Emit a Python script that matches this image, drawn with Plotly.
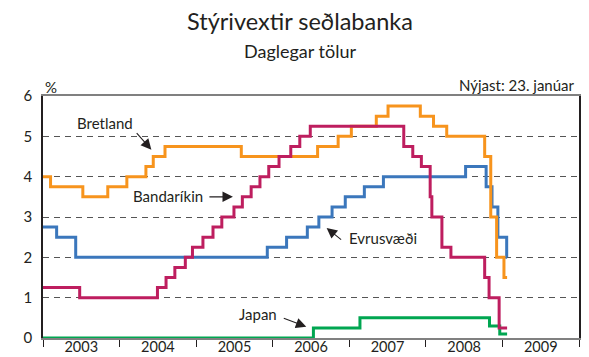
import plotly.graph_objects as go

# Policy rates, daily figures (step changes; the last value runs to 23 Jan 2009)
END_DATE = "2009-01-23"

uk_dates = ["2003-01-01", "2003-02-06", "2003-07-10", "2003-11-06", "2004-02-05",
            "2004-05-06", "2004-06-10", "2004-08-05", "2005-08-04", "2006-08-03",
            "2006-11-09", "2007-01-11", "2007-05-10", "2007-07-05", "2007-12-06",
            "2008-02-07", "2008-04-10", "2008-10-08", "2008-11-06", "2008-12-04",
            "2009-01-08"]
uk_rates = [4.00, 3.75, 3.50, 3.75, 4.00, 4.25, 4.50, 4.75, 4.50, 4.75,
            5.00, 5.25, 5.50, 5.75, 5.50, 5.25, 5.00, 4.50, 3.00, 2.00, 1.50]

us_dates = ["2003-01-01", "2003-06-25", "2004-06-30", "2004-08-10", "2004-09-21",
            "2004-11-10", "2004-12-14", "2005-02-02", "2005-03-22", "2005-05-03",
            "2005-06-30", "2005-08-09", "2005-09-20", "2005-11-01", "2005-12-13",
            "2006-01-31", "2006-03-28", "2006-05-10", "2006-06-29", "2007-09-18",
            "2007-10-31", "2007-12-11", "2008-01-22", "2008-01-30", "2008-03-18",
            "2008-04-30", "2008-10-08", "2008-10-29", "2008-12-16"]
us_rates = [1.25, 1.00, 1.25, 1.50, 1.75, 2.00, 2.25, 2.50, 2.75, 3.00,
            3.25, 3.50, 3.75, 4.00, 4.25, 4.50, 4.75, 5.00, 5.25, 4.75,
            4.50, 4.25, 3.50, 3.00, 2.25, 2.00, 1.50, 1.00, 0.25]

ez_dates = ["2003-01-01", "2003-03-07", "2003-06-06", "2005-12-06", "2006-03-08",
            "2006-06-15", "2006-08-09", "2006-10-11", "2006-12-13", "2007-03-14",
            "2007-06-13", "2008-07-09", "2008-10-15", "2008-11-12", "2008-12-10",
            "2009-01-21"]
ez_rates = [2.75, 2.50, 2.00, 2.25, 2.50, 2.75, 3.00, 3.25, 3.50, 3.75,
            4.00, 4.25, 3.75, 3.25, 2.50, 2.00]

jp_dates = ["2003-01-01", "2006-07-14", "2007-02-21", "2008-10-31", "2008-12-19"]
jp_rates = [0.00, 0.25, 0.50, 0.30, 0.10]

ORANGE = "#F7941D"
MAGENTA = "#BE1E5F"
BLUE = "#3B77BC"
GREEN = "#00A651"
INK = "#231F20"
FONT = "Lato"


def extend(dates, rates):
    """Carry the last rate through to the latest observation."""
    return dates + [END_DATE], rates + [rates[-1]]


fig = go.Figure()
series = [
    ("Japan", jp_dates, jp_rates, GREEN),
    ("Evrusvæði", ez_dates, ez_rates, BLUE),
    ("Bretland", uk_dates, uk_rates, ORANGE),
    ("Bandaríkin", us_dates, us_rates, MAGENTA),
]
for name, d, r, c in series:
    xd, yr = extend(d, r)
    fig.add_trace(go.Scatter(
        x=xd, y=yr, name=name, mode="lines",
        line=dict(color=c, width=3, shape="hv"),
        showlegend=False, hoverinfo="skip",
    ))

annotations = []
# series labels
labels = [
    ("Bretland", "2003-10-22", 5.34),
    ("Bandaríkin", "2004-08-19", 3.51),
    ("Evrusvæði", "2007-06-12", 2.48),
    ("Japan", "2005-10-23", 0.60),
]
for text, x, y in labels:
    annotations.append(dict(
        x=x, y=y, xref="x", yref="y", text=text, showarrow=False,
        xanchor="center", yanchor="middle",
        font=dict(family=FONT, size=15, color=INK),
    ))
# pointer arrows from the labels to the lines
arrows = [
    ("2004-06-01", 4.67, -16, -18),
    ("2005-06-25", 3.50, -25, 0),
    ("2006-09-15", 2.73, 16, 13),
    ("2006-06-10", 0.28, -24, -9),
]
for x, y, ax, ay in arrows:
    annotations.append(dict(
        x=x, y=y, xref="x", yref="y", text="", showarrow=True,
        ax=ax, ay=ay, arrowhead=2, arrowsize=1.9, arrowwidth=1.1,
        arrowcolor=INK, standoff=0, startstandoff=0,
    ))

# titles and corner notes
annotations += [
    dict(x=0.4795, y=1.3085, xref="paper", yref="paper", text="Stýrivextir seðlabanka",
         showarrow=False, xanchor="center", yanchor="middle",
         font=dict(family=FONT, size=23.5, color=INK)),
    dict(x=0.4795, y=1.188, xref="paper", yref="paper", text="Daglegar tölur",
         showarrow=False, xanchor="center", yanchor="middle",
         font=dict(family=FONT, size=18, color=INK)),
    dict(x=0.0149, y=1.039, xref="paper", yref="paper", text="%",
         showarrow=False, xanchor="center", yanchor="middle",
         font=dict(family=FONT, size=15, color=INK)),
    dict(x=0.9963, y=1.0435, xref="paper", yref="paper", text="Nýjast: 23. janúar",
         showarrow=False, xanchor="right", yanchor="middle",
         font=dict(family=FONT, size=15, color=INK)),
]

fig.update_layout(
    width=589, height=357,
    margin=dict(l=43, r=10, t=96, b=19),
    paper_bgcolor="white", plot_bgcolor="white",
    font=dict(family=FONT, size=15, color=INK),
    annotations=annotations,
)

# yearly ticks at the year boundaries, labels centred on each year
fig.update_xaxes(
    type="date",
    range=["2003-01-01", "2010-01-01"],
    tickmode="linear", tick0="2003-01-01", dtick="M12",
    tickformat="%Y",
    ticklabelmode="period",
    ticks="outside", ticklen=7, tickwidth=1.3, tickcolor=INK,
    ticklabelstandoff=-12,
    showgrid=False, zeroline=False,
    showline=True, linecolor="#808080", linewidth=1.5, mirror=True,
    tickfont=dict(family=FONT, size=14.5, color=INK),
    automargin=False,
)

fig.update_yaxes(
    range=[0, 6], dtick=1, tick0=0,
    showgrid=True, gridcolor="#555555", gridwidth=1.2, griddash="6px,5px",
    zeroline=False,
    showline=True, linecolor=INK, linewidth=1.5, mirror=True,
    ticks="", ticklabelstandoff=6,
    tickfont=dict(family=FONT, size=15, color=INK),
    automargin=False,
)

fig.write_html("out.html")
